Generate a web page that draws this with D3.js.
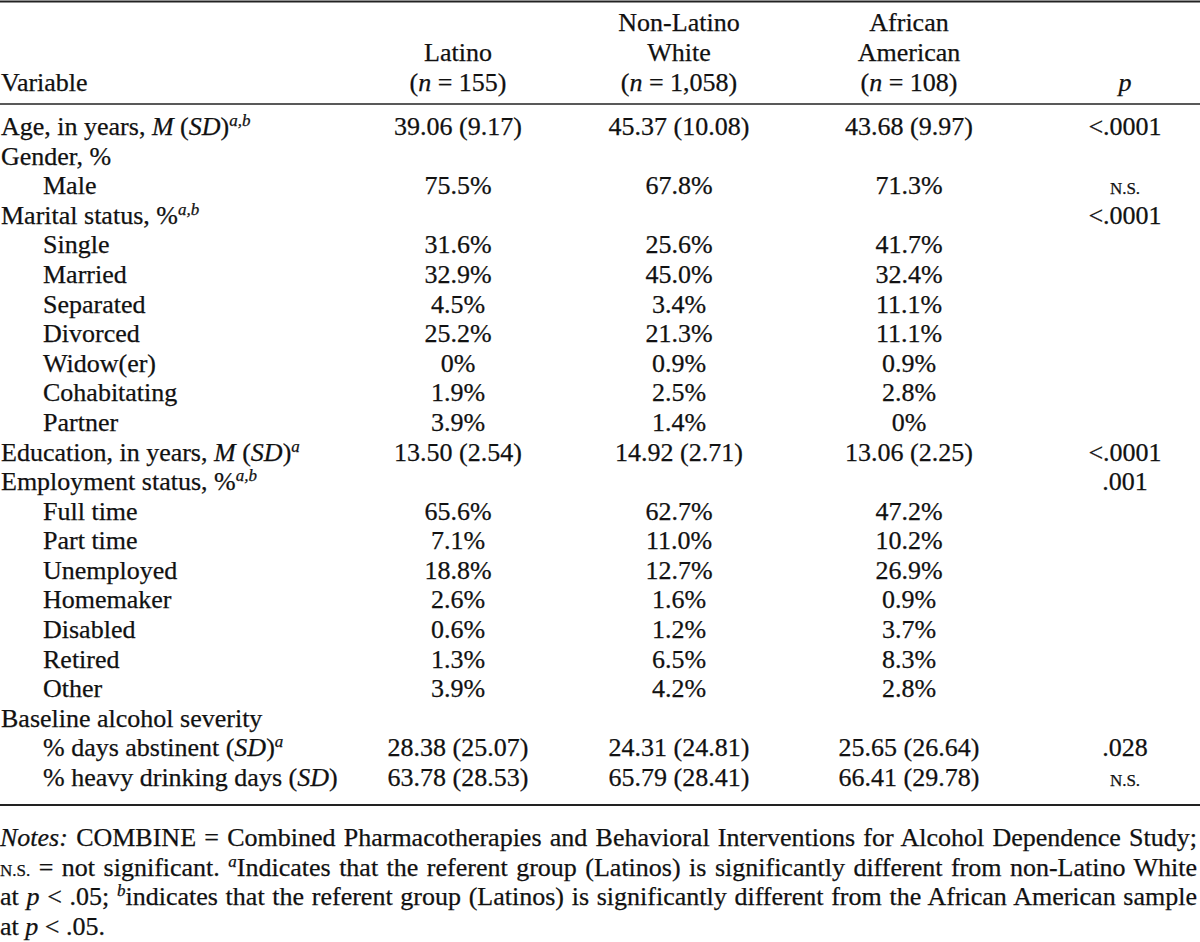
<!DOCTYPE html>
<html>
<head>
<meta charset="utf-8">
<script src="https://cdn.jsdelivr.net/npm/d3@7"></script>
<style>
  html, body { margin: 0; padding: 0; background: #fff; }
  svg { display: block; }
  text { font-family: "Liberation Serif", "Times New Roman", serif; fill: #111; }
</style>
</head>
<body>
<svg id="chart" width="1200" height="942"></svg>
<script>
// ---------- DATA ----------
const groups = ["Latino", "Non-Latino White", "African American"];
const headerLines = [
  ["", "Latino", "(*n* = 155)"],
  ["Non-Latino", "White", "(*n* = 1,058)"],
  ["African", "American", "(*n* = 108)"],
  ["", "", "*p*"]
];
const variables = [
  "Age, in years, *M* (*SD*)^{a,b}", "Gender, %", "Male", "Marital status, %^{a,b}",
  "Single", "Married", "Separated", "Divorced", "Widow(er)", "Cohabitating", "Partner",
  "Education, in years, *M* (*SD*)^{a}", "Employment status, %^{a,b}",
  "Full time", "Part time", "Unemployed", "Homemaker", "Disabled", "Retired", "Other",
  "Baseline alcohol severity", "% days abstinent (*SD*)^{a}", "% heavy drinking days (*SD*)"
];
const indentLevel = [0,0,1,0,1,1,1,1,1,1,1,0,0,1,1,1,1,1,1,1,0,1,1];
const latino = ["39.06 (9.17)", "", "75.5%", "", "31.6%", "32.9%", "4.5%", "25.2%", "0%", "1.9%", "3.9%",
  "13.50 (2.54)", "", "65.6%", "7.1%", "18.8%", "2.6%", "0.6%", "1.3%", "3.9%", "", "28.38 (25.07)", "63.78 (28.53)"];
const white = ["45.37 (10.08)", "", "67.8%", "", "25.6%", "45.0%", "3.4%", "21.3%", "0.9%", "2.5%", "1.4%",
  "14.92 (2.71)", "", "62.7%", "11.0%", "12.7%", "1.6%", "1.2%", "6.5%", "4.2%", "", "24.31 (24.81)", "65.79 (28.41)"];
const african = ["43.68 (9.97)", "", "71.3%", "", "41.7%", "32.4%", "11.1%", "11.1%", "0.9%", "2.8%", "0%",
  "13.06 (2.25)", "", "47.2%", "10.2%", "26.9%", "0.9%", "3.7%", "8.3%", "2.8%", "", "25.65 (26.64)", "66.41 (29.78)"];
const pValues = ["<.0001", "", "~{n.s.}", "<.0001", "", "", "", "", "", "", "",
  "<.0001", ".001", "", "", "", "", "", "", "", "", ".028", "~{n.s.}"];
const notes = [
  "*Notes:* COMBINE = Combined Pharmacotherapies and Behavioral Interventions for Alcohol Dependence Study;",
  "~{n.s.} = not significant. ^{a}Indicates that the referent group (Latinos) is significantly different from non-Latino White",
  "at *p* < .05; ^{b}indicates that the referent group (Latinos) is significantly different from the African American sample",
  "at *p* < .05."
];
const notesJustified = [true, true, true, false];

// ---------- LAYOUT ----------
const W = 1200, H = 942;
const FS = 26;
const svg = d3.select("#chart");

const colKeys = ["latino", "white", "african", "p"];
const colX = d3.scaleOrdinal().domain(colKeys).range([458, 679, 909, 1125]);
const rowY = d3.scalePoint().domain(d3.range(variables.length)).range([135, 786]);
const headY = d3.scalePoint().domain([0, 1, 2]).range([31, 91]);
const noteY = d3.scalePoint().domain(d3.range(notes.length)).range([846, 935]);
const indentX = d3.scaleOrdinal().domain([0, 1]).range([1, 43]);

function parse(str) {
  const out = [];
  const re = /\*([^*]+)\*|\^\{([^}]+)\}|~\{([^}]+)\}|([^*^~]+)/g;
  let m;
  while ((m = re.exec(str)) !== null) {
    if (m[1] !== undefined) out.push({ t: m[1], it: true });
    else if (m[2] !== undefined) out.push({ t: m[2], it: true, sup: true });
    else if (m[3] !== undefined) out.push({ t: m[3].toUpperCase(), sc: true });
    else out.push({ t: m[4] });
  }
  return out;
}

function drawText(g, str, x, y, anchor) {
  const t = g.append("text")
    .attr("x", x).attr("y", y)
    .attr("text-anchor", anchor)
    .style("font-size", FS + "px")
    .style("stroke", "#111").style("stroke-width", "0.25px")
    .attr("xml:space", "preserve");
  let raised = false;
  parse(str).forEach(s => {
    const ts = t.append("tspan").text(s.t);
    if (s.it) ts.style("font-style", "italic");
    if (s.sc) ts.style("font-size", "17px");
    if (s.sup) { ts.style("font-size", "17px").attr("dy", -9); raised = true; }
    else if (raised) { ts.attr("dy", 9); raised = false; }
  });
  return t;
}

// rules
const rules = [
  { y: 1.5, w: 2.2 },
  { y: 104, w: 1.6 },
  { y: 805, w: 2 }
];
svg.selectAll("line.rule").data(rules).enter().append("line")
  .attr("class", "rule")
  .attr("x1", 0).attr("x2", W)
  .attr("y1", d => d.y).attr("y2", d => d.y)
  .attr("stroke", "#222").attr("stroke-width", d => d.w);

// header
const head = svg.append("g");
drawText(head, "Variable", 1, headY(2), "start");
colKeys.forEach((k, ci) => {
  headerLines[ci].forEach((line, li) => {
    if (line) drawText(head, line, colX(k), headY(li), "middle");
  });
});

// body
const body = svg.append("g");
variables.forEach((v, i) => {
  drawText(body, v, indentX(indentLevel[i]), rowY(i), "start");
});
const cols = { latino: latino, white: white, african: african, p: pValues };
colKeys.forEach(k => {
  cols[k].forEach((val, i) => {
    if (val) drawText(body, val, colX(k), rowY(i), "middle");
  });
});

// notes
const ng = svg.append("g");
notes.forEach((n, i) => {
  const t = drawText(ng, n, 0, noteY(i), "start");
  if (notesJustified[i]) {
    const natural = t.node().getComputedTextLength();
    const spaces = (n.replace(/\*|\^\{|~\{|\}/g, "").match(/ /g) || []).length;
    t.attr("word-spacing", (1197 - natural) / spaces);
  }
});
</script>
</body>
</html>
